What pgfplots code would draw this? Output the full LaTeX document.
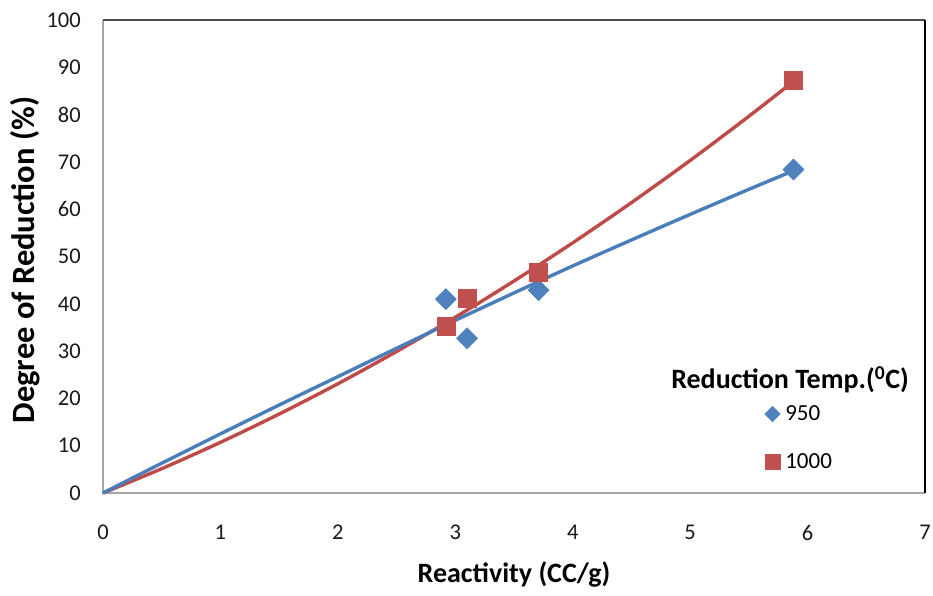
\documentclass[border=0pt]{standalone}
\usepackage{fontspec}
\setmainfont{Carlito}
\usepackage{pgfplots}
\pgfplotsset{compat=1.18}
\definecolor{xblue}{HTML}{4F81BD}
\definecolor{xred}{HTML}{C0504D}
\definecolor{lblue}{HTML}{4A7EBB}
\definecolor{lred}{HTML}{BE4B48}
\pgfplotsset{
 bleg/.style={legend image code/.code={\draw[##1, mark size=5.5pt] plot coordinates {(0pt,0pt)};}},
 rleg/.style={legend image code/.code={\draw[##1, mark size=7.5pt] plot coordinates {(0pt,0pt)};}},
}
\begin{document}
\begin{tikzpicture}
\useasboundingbox (-103pt,-102pt) rectangle (830pt,493pt);
\begin{axis}[
 at={(0,0)}, anchor=origin,
 scale only axis, width=822pt, height=473pt,
 xmin=0, xmax=7, ymin=0, ymax=100,
 xtick={0,1,...,7}, ytick={0,10,...,100},
 major tick length=0pt,
 axis line style={draw=none},
 /pgf/number format/assume math mode=true,
 tick label style={font=\fontsize{22.5}{26}\selectfont, text=black!90},
 xticklabel style={inner sep=0pt, anchor=north, yshift=-32pt},
 yticklabel style={inner sep=0pt, anchor=east, xshift=-22pt},
 xlabel={\textbf{Reactivity (CC/g)}},
 ylabel={\textbf{Degree of Reduction (\%)}},
 xlabel style={font=\fontsize{28}{32}\selectfont, inner sep=0pt, at={(axis description cs:0.5,-0.18816)}, anchor=base},
 ylabel style={font=\fontsize{32.5}{36}\selectfont, inner sep=0pt, at={(axis description cs:-0.08273,0.4926)}, anchor=base},
 legend style={at={(axis description cs:0.8048,0.1848)}, anchor=north west, draw=none, fill=none,
   inner sep=0pt, row sep=31pt, column sep=5pt, font=\fontsize{23}{26}\selectfont,
   nodes={inner sep=0pt}},
 legend cell align=left,
 clip=false,
]
\draw[gray!70, line width=1.5pt] (rel axis cs:0,1) -- (rel axis cs:0,0) -- (rel axis cs:1,0);
\draw[black!70, line width=1.5pt] (rel axis cs:0,1) -- (rel axis cs:1,1);
\draw[black, line width=1.5pt] (rel axis cs:1,1) -- (rel axis cs:1,0);

\addplot[only marks, mark=square*, mark size=7.5pt, mark options={rotate=45, fill=xblue, draw=xblue}, bleg]
  coordinates {(2.92,41.0) (3.10,32.7) (3.71,42.9) (5.88,68.4)};
\addlegendentry{950}
\addplot[only marks, mark=square*, mark size=9pt, mark options={fill=xred, draw=xred}, rleg]
  coordinates {(2.92,35.3) (3.10,41.2) (3.71,46.6) (5.88,87.2)};
\addlegendentry{1000}

\addplot[lred, line width=3.4pt, no marks, smooth, forget plot] coordinates {
 (0,0) (0.5,5.14) (1,10.71) (1.5,16.69) (2,23.09) (2.5,29.92) (3,37.15) (3.5,44.82)
 (4,52.89) (4.5,61.39) (5,70.3) (5.5,79.64) (5.88,87.01)};
\addplot[lblue, line width=3.4pt, no marks, smooth, forget plot] coordinates {
 (0,0) (0.5,6.3) (1,12.5) (1.5,18.6) (2,24.6) (2.5,30.6) (3,36.5) (3.5,42.3)
 (4,48.0) (4.5,53.5) (5,58.9) (5.5,64.2) (5.88,68.14)};

\node[anchor=base, font=\fontsize{28}{32}\selectfont\bfseries, inner sep=0pt]
  at (axis description cs:0.8358,0.2199) {Reduction Temp.(\textsuperscript{0}C)};
\end{axis}
\end{tikzpicture}
\end{document}
